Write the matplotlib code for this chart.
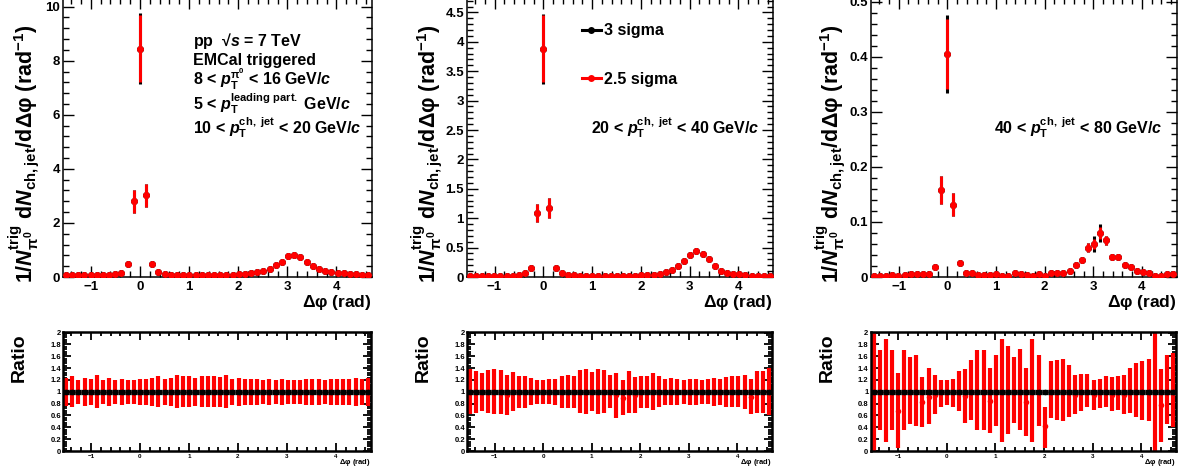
import numpy as np
import matplotlib
matplotlib.use("Agg")
import matplotlib.pyplot as plt
from matplotlib.ticker import MultipleLocator, FormatStrFormatter
from matplotlib.lines import Line2D

plt.rcParams['font.family'] = 'Liberation Sans'
plt.rcParams['font.weight'] = 'bold'
plt.rcParams['mathtext.fontset'] = 'custom'
plt.rcParams['mathtext.rm'] = 'Liberation Sans:bold'
plt.rcParams['mathtext.bf'] = 'Liberation Sans:bold'
plt.rcParams['mathtext.it'] = 'Liberation Sans:italic:bold'
plt.rcParams['mathtext.bfit'] = 'Liberation Sans:italic:bold'
plt.rcParams['mathtext.default'] = 'bf'
plt.rcParams['axes.unicode_minus'] = True

# 50 bins over [-pi/2, 3pi/2]
n_bins = 50
edges = np.linspace(-np.pi / 2, 1.5 * np.pi, n_bins + 1)
dphi = 0.5 * (edges[1:] + edges[:-1])
half_bin = 0.5 * (edges[1] - edges[0])

# ---- 10 < pT jet < 20 ----
sig25_1 = [0.06, 0.07, 0.07, 0.07, 0.07, 0.07, 0.08, 0.09, 0.12, 0.16,
           0.48, 2.80, 8.45, 3.02, 0.49,
           0.18, 0.11, 0.09, 0.08, 0.07, 0.07, 0.07, 0.07, 0.07, 0.07, 0.08, 0.08, 0.09,
           0.11, 0.12, 0.15, 0.17, 0.21, 0.30, 0.45, 0.55, 0.77, 0.82, 0.73, 0.57, 0.42,
           0.31, 0.22, 0.17, 0.16, 0.13, 0.12, 0.10, 0.09, 0.08]
err25_1 = [0.01, 0.01, 0.01, 0.01, 0.01, 0.01, 0.012, 0.014, 0.018, 0.024,
           0.07, 0.42, 1.25, 0.43, 0.07,
           0.027, 0.017, 0.014, 0.012, 0.01, 0.01, 0.01, 0.01, 0.01, 0.01, 0.012, 0.012, 0.014,
           0.017, 0.018, 0.022, 0.025, 0.03, 0.045, 0.065, 0.08, 0.10, 0.11, 0.10, 0.08, 0.06,
           0.045, 0.033, 0.025, 0.024, 0.02, 0.018, 0.015, 0.014, 0.012]
err3_1 = list(err25_1)
err3_1[12] = 1.30
ratio_1 = [1, 1, 1, 1, 1, 1, 1, 1, 1, 1,
           1, 1, 1, 1, 1, 1, 1, 1, 1, 1,
           1, 1, 1, 1, 1, 1, 1, 1, 1, 1,
           1, 1, 1, 1, 1, 1, 1, 1, 1, 1,
           1, 1, 1, 1, 1, 1, 1, 1, 1, 1]
rerr_1 = [0.24, 0.26, 0.20, 0.24, 0.22, 0.28, 0.20, 0.24, 0.20, 0.22,
          0.20, 0.20, 0.22, 0.22, 0.24, 0.26, 0.22, 0.24, 0.28, 0.26,
          0.26, 0.24, 0.26, 0.26, 0.26, 0.25, 0.28, 0.22, 0.24, 0.22,
          0.22, 0.22, 0.20, 0.22, 0.20, 0.22, 0.20, 0.20, 0.20, 0.22,
          0.22, 0.22, 0.20, 0.22, 0.22, 0.22, 0.22, 0.24, 0.22, 0.24]

# ---- 20 < pT jet < 40 ----
sig25_2 = [0.02, 0.02, 0.02, 0.02, 0.02, 0.02, 0.02, 0.025, 0.03, 0.06,
           0.15, 1.09, 3.88, 1.18, 0.16,
           0.06, 0.04, 0.03, 0.02, 0.02, 0.02, 0.02, 0.02, 0.02, 0.02, 0.02, 0.02, 0.025,
           0.03, 0.03, 0.035, 0.057, 0.09, 0.125, 0.19, 0.27, 0.38, 0.45, 0.39, 0.30, 0.19,
           0.10, 0.06, 0.057, 0.045, 0.03, 0.02, 0.02, 0.02, 0.02]
err25_2 = [0.004, 0.004, 0.004, 0.004, 0.004, 0.004, 0.004, 0.005, 0.006, 0.01,
           0.025, 0.15, 0.57, 0.17, 0.025,
           0.01, 0.008, 0.006, 0.005, 0.004, 0.004, 0.004, 0.004, 0.004, 0.004, 0.004, 0.004, 0.005,
           0.006, 0.006, 0.007, 0.009, 0.012, 0.015, 0.02, 0.025, 0.03, 0.035, 0.03, 0.025, 0.02,
           0.013, 0.009, 0.009, 0.007, 0.006, 0.005, 0.004, 0.004, 0.004]
err3_2 = list(err25_2)
err3_2[12] = 0.60
ratio_2 = [1, 1, 1, 1, 1, 1, 0.94, 1, 1, 1,
           1, 1, 1, 1, 1, 1, 1, 1, 1, 1,
           1, 1, 1, 1, 0.94, 0.90, 1, 0.95, 1, 1,
           1, 1, 1, 1, 1, 1, 1, 1, 1, 1,
           1, 1, 1, 1, 1, 1, 0.92, 1, 1, 1]
rerr_2 = [0.38, 0.35, 0.32, 0.36, 0.38, 0.37, 0.34, 0.33, 0.27, 0.27,
          0.23, 0.20, 0.20, 0.21, 0.22, 0.27, 0.28, 0.27, 0.36, 0.38,
          0.33, 0.38, 0.36, 0.28, 0.38, 0.30, 0.35, 0.30, 0.27, 0.27,
          0.31, 0.26, 0.22, 0.23, 0.22, 0.20, 0.22, 0.22, 0.20, 0.21,
          0.24, 0.22, 0.25, 0.26, 0.26, 0.29, 0.30, 0.35, 0.35, 0.40]

# ---- 40 < pT jet < 80 ----
sig25_3 = [0.001, 0.0024, 0.0015, 0.003, 0.001, 0.0036, 0.0054, 0.005, 0.006, 0.006,
           0.019, 0.158, 0.405, 0.131, 0.025,
           0.008, 0.008, 0.004, 0.003, 0.004, 0.005, 0.002, 0.0025, 0.0066, 0.005, 0.0036, 0.0024, 0.005,
           0.001, 0.008, 0.008, 0.008, 0.011, 0.022, 0.03, 0.053, 0.06, 0.08, 0.067, 0.036, 0.037,
           0.022, 0.019, 0.01, 0.0085, 0.008, 0.001, 0.0024, 0.005, 0.005]
err25_3 = [0.001, 0.0015, 0.001, 0.0015, 0.001, 0.0015, 0.002, 0.002, 0.002, 0.002,
           0.003, 0.025, 0.064, 0.021, 0.004,
           0.002, 0.002, 0.0015, 0.0015, 0.0015, 0.002, 0.001, 0.001, 0.002, 0.002, 0.0015, 0.0015, 0.002,
           0.001, 0.002, 0.002, 0.002, 0.003, 0.004, 0.005, 0.008, 0.009, 0.011, 0.008, 0.005, 0.005,
           0.004, 0.003, 0.002, 0.002, 0.002, 0.001, 0.0015, 0.002, 0.002]
err3_3 = list(err25_3)
err3_3[12] = 0.070
err3_3[36] = 0.0145
err3_3[37] = 0.016
ratio_3 = [1, 1, 1, 1, 0.68, 1, 1, 1, 0.82, 0.92,
           0.95, 1, 1, 1, 1, 0.93, 1, 1, 1, 0.85,
           1, 1, 1, 1, 1, 0.82, 1, 1, 0.42, 1,
           1, 1, 1, 0.95, 1, 1, 0.95, 1, 1, 0.95,
           1, 0.95, 1, 1, 1, 1, 1, 0.77, 1, 1]
rlo_3 = [0.0, 0.35, 0.15, 0.35, 0.05, 0.35, 0.45, 0.42, 0.40, 0.45,
         0.62, 0.75, 0.78, 0.75, 0.68, 0.48, 0.52, 0.35, 0.35, 0.30,
         0.42, 0.15, 0.28, 0.48, 0.35, 0.25, 0.15, 0.42, 0.05, 0.55,
         0.52, 0.50, 0.58, 0.62, 0.68, 0.75, 0.70, 0.72, 0.75, 0.68,
         0.70, 0.62, 0.65, 0.57, 0.52, 0.50, 0.0, 0.15, 0.45, 0.40]
rhi_3 = [2.1, 1.70, 1.90, 1.70, 1.32, 1.70, 1.58, 1.62, 1.25, 1.40,
         1.28, 1.20, 1.20, 1.22, 1.35, 1.38, 1.53, 1.70, 1.70, 1.40,
         1.62, 1.90, 1.78, 1.58, 1.72, 1.40, 1.90, 1.62, 0.75, 1.52,
         1.53, 1.55, 1.45, 1.28, 1.30, 1.30, 1.20, 1.22, 1.27, 1.25,
         1.27, 1.28, 1.40, 1.48, 1.52, 1.55, 2.10, 1.38, 1.62, 1.65]

W, H = 1191, 472
fig = plt.figure(figsize=(W / 100, H / 100), dpi=100)


def box(l, r, t, b):
    return [l / W, 1 - b / H, (r - l) / W, (b - t) / H]


def ftext(x, y, s, **kw):
    fig.text(x / W, 1 - y / H, s, **kw)


RED = '#ff0000'
top_boxes = [(62.8, 371.5, -2, 277), (466.7, 773, -2, 277), (871, 1176.5, -2, 277)]
rat_boxes = [(63, 371, 332, 451), (467, 772, 332, 451), (870.5, 1176, 332, 451)]
ytops = [10.32, 4.745, 0.5067]
ymaj = [2, 0.5, 0.1]
sig25 = [sig25_1, sig25_2, sig25_3]
err25 = [err25_1, err25_2, err25_3]
err3 = [err3_1, err3_2, err3_3]
ylab_x = [24, 427, 830]
ylab = (r'1/$\mathbfit{N}_{\pi^{0}}^{trig}$ d$\mathbfit{N}_{ch,jet}$/d$\Delta\varphi$ (rad$^{-1}$)')

for i in range(3):
    ax = fig.add_axes(box(*top_boxes[i]))
    ax.errorbar(dphi, sig25[i], yerr=err3[i], fmt='o', color='black', ms=5,
                mew=0, elinewidth=2.2, capsize=0, zorder=2)
    ax.errorbar(dphi, sig25[i], yerr=err25[i], fmt='o', color=RED, ms=5,
                mew=0, elinewidth=2.2, capsize=0, zorder=3)
    ax.set_xlim(-np.pi / 2, 1.5 * np.pi)
    ax.set_ylim(0, ytops[i])
    ax.xaxis.set_major_locator(MultipleLocator(1))
    ax.xaxis.set_minor_locator(MultipleLocator(0.2))
    ax.yaxis.set_major_locator(MultipleLocator(ymaj[i]))
    ax.yaxis.set_minor_locator(MultipleLocator(ymaj[i] / 5))
    ax.yaxis.set_major_formatter(FormatStrFormatter('%g'))
    ax.tick_params(which='both', direction='in', top=True, right=True,
                   labelsize=9.5, width=1)
    ax.tick_params(which='major', length=8)
    ax.tick_params(which='minor', length=4)
    ax.tick_params(axis='x', pad=3)
    ax.tick_params(axis='y', pad=2)
    ax.set_xticks([-1, 0, 1, 2, 3, 4])
    ax.set_xticklabels(['\u22121', '0', '1', '2', '3', '4'])
    for s in ax.spines.values():
        s.set_linewidth(1.1)
    r = top_boxes[i][1]
    ftext(r, 302, r'$\Delta\varphi$ (rad)', fontsize=12.5, ha='right', va='center')
    ftext(ylab_x[i], 283, ylab, fontsize=15.5, rotation=90, ha='center', va='bottom')

    if i == 1:
        hs = [Line2D([], [], color='black', marker='o', ms=5, lw=2.2, mew=0),
              Line2D([], [], color=RED, marker='o', ms=5, lw=2.2, mew=0)]
        ax.legend(hs, ['3 sigma', '2.5 sigma'], loc='upper left',
                  bbox_to_anchor=(0.376, 0.91), frameon=False, fontsize=11.5,
                  handlelength=1.2, handletextpad=0.2, labelspacing=2.1,
                  borderpad=0, borderaxespad=0)

# annotation texts
ftext(193, 46, 'pp  \u221a$\\mathbfit{s}$ = 7 TeV', fontsize=11.5, va='baseline')
ftext(193, 65, 'EMCal triggered', fontsize=11.5, va='baseline')
ftext(193, 86, r'8 < $\mathbfit{p}_{T}^{\pi^{0}}$ < 16 GeV/$\mathbfit{c}$', fontsize=11.5, va='baseline')
ftext(193, 110, r'5 < $\mathbfit{p}_{T}^{leading\ part.}$ GeV/$\mathbfit{c}$', fontsize=11.5, va='baseline')
ftext(193, 134, r'10 < $\mathbfit{p}_{T}^{ch,\ jet}$ < 20 GeV/$\mathbfit{c}$', fontsize=11.5, va='baseline')
ftext(760, 133, r'20 < $\mathbfit{p}_{T}^{ch,\ jet}$ < 40 GeV/$\mathbfit{c}$', fontsize=11.5, va='baseline', ha='right')
ftext(1163, 133, r'40 < $\mathbfit{p}_{T}^{ch,\ jet}$ < 80 GeV/$\mathbfit{c}$', fontsize=11.5, va='baseline', ha='right')

# ratio panels
rvals = [ratio_1, ratio_2, ratio_3]
rerrs = [[rerr_1, rerr_1], [rerr_2, rerr_2],
         [np.subtract(ratio_3, rlo_3), np.subtract(rhi_3, ratio_3)]]
rat_lab_x = [19, 423, 827]
for i in range(3):
    ax = fig.add_axes(box(*rat_boxes[i]))
    ax.errorbar(dphi, rvals[i], yerr=rerrs[i], fmt='o', color=RED, ms=4,
                mew=0, elinewidth=3.0, capsize=0, zorder=2)
    ax.errorbar(dphi, np.ones(n_bins), xerr=half_bin, fmt='o', color='black',
                ms=4, mew=0, elinewidth=3.8, capsize=0, zorder=3)
    ax.set_xlim(-np.pi / 2, 1.5 * np.pi)
    ax.set_ylim(0, 2.01)
    ax.xaxis.set_major_locator(MultipleLocator(1))
    ax.xaxis.set_minor_locator(MultipleLocator(0.2))
    ax.yaxis.set_minor_locator(MultipleLocator(0.04))
    ax.tick_params(which='both', direction='in', top=True, right=True, width=1.3)
    ax.tick_params(which='major', length=6)
    ax.tick_params(which='minor', length=3)
    ax.tick_params(axis='y', labelsize=5.5, pad=1.5)
    ax.tick_params(axis='x', labelsize=4.5, pad=2)
    ax.set_xticks([-1, 0, 1, 2, 3, 4])
    ax.set_xticklabels(['\u22121', '0', '1', '2', '3', '4'])
    ax.set_yticks(np.arange(0, 2.01, 0.2))
    ax.set_yticklabels(['0', '0.2', '0.4', '0.6', '0.8', '1', '1.2', '1.4', '1.6', '1.8', '2'])
    for s in ax.spines.values():
        s.set_linewidth(1.8)
    ftext(rat_boxes[i][1], 462, r'$\Delta\varphi$ (rad)', fontsize=5.5, ha='right', va='center')
    ftext(rat_lab_x[i], 358, 'Ratio', fontsize=14, rotation=90, ha='center', va='center')

fig.savefig('out.png', dpi=100)
